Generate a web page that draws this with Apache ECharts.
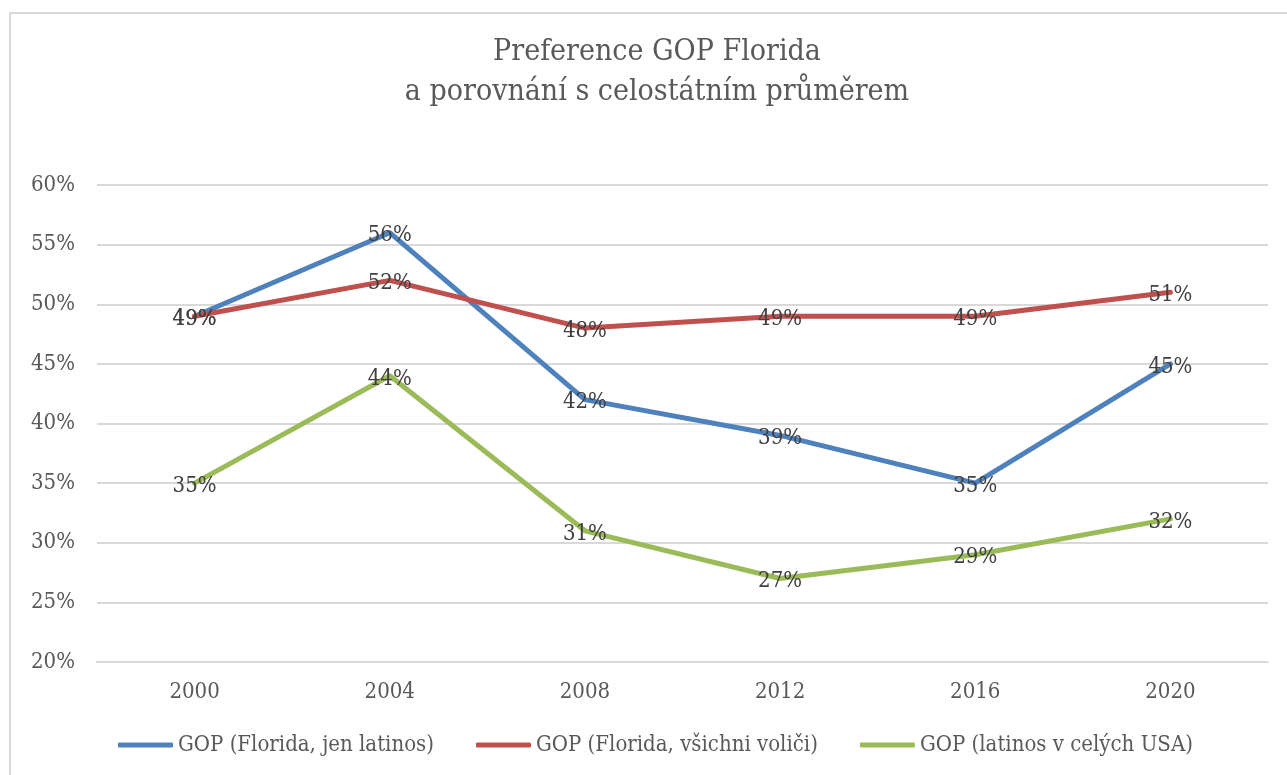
<!DOCTYPE html>
<html><head><meta charset="utf-8">
<script src="https://cdn.jsdelivr.net/npm/echarts@6/dist/echarts.min.js"></script>
<style>html,body{margin:0;padding:0;background:#fff}#c{width:1287px;height:775px}</style>
</head><body><div id="c"></div>
<script>
const categories = ['2000','2004','2008','2012','2016','2020'];
const floridaLatinos = [49, 56, 42, 39, 35, 45];
const floridaAll = [49, 52, 48, 49, 49, 51];
const latinosUSA = [35, 44, 31, 27, 29, 32];
const seriesNames = ['GOP (Florida, jen latinos)', 'GOP (Florida, všichni voliči)', 'GOP (latinos v celých USA)'];
const titleLines = ['Preference GOP Florida', 'a porovnání s celostátním průměrem'];

const FONT = '"DejaVu Serif Condensed", "DejaVu Serif"';
const TXT = '#595959';
const chart = echarts.init(document.getElementById('c'), null, {renderer: 'canvas'});
const lbl = {show: true, position: [1, 4], align: 'center', verticalAlign: 'middle', color: '#404040', fontFamily: FONT, fontSize: 22, formatter: p => p.value + '%'};
function mk(name, data, color) {
  return {name, type: 'line', data, symbol: 'circle', symbolSize: 2, showSymbol: true,
    lineStyle: {color, width: 5, cap: 'round', join: 'round'}, itemStyle: {color},
    label: lbl, labelLayout: {hideOverlap: false}};
}
chart.setOption({
  animation: false,
  graphic: [{type: 'rect', shape: {x: 10, y: 13, width: 1400, height: 900}, style: {fill: 'none', stroke: '#d9d9d9', lineWidth: 2}, z: -1}],
  title: {text: titleLines.join('\n'), left: 652, top: 27, textAlign: 'center',
    textStyle: {fontFamily: FONT, fontWeight: 'normal', fontSize: 30, color: TXT, lineHeight: 40}},
  grid: {left: 97, right: 19, top: 185, bottom: 113, containLabel: false},
  xAxis: {type: 'category', data: categories, boundaryGap: true,
    axisLine: {show: true, lineStyle: {color: '#d9d9d9', width: 2}}, axisTick: {show: false},
    axisLabel: {color: TXT, fontFamily: FONT, fontSize: 22, margin: 19}},
  yAxis: {type: 'value', min: 20, max: 60, interval: 5,
    axisLine: {show: false}, axisTick: {show: false},
    splitLine: {lineStyle: {color: '#d9d9d9', width: 2}},
    axisLabel: {color: TXT, fontFamily: FONT, fontSize: 22, margin: 22, formatter: '{value}%'}},
  legend: {bottom: 14, left: 113, itemGap: 42, itemWidth: 55, itemHeight: 5, icon: 'roundRect',
    textStyle: {color: TXT, fontFamily: FONT, fontSize: 22}, data: seriesNames},
  series: [mk(seriesNames[0], floridaLatinos, '#4f81bd'), mk(seriesNames[1], floridaAll, '#c0504d'), mk(seriesNames[2], latinosUSA, '#9bbb59')]
});
</script></body></html>
